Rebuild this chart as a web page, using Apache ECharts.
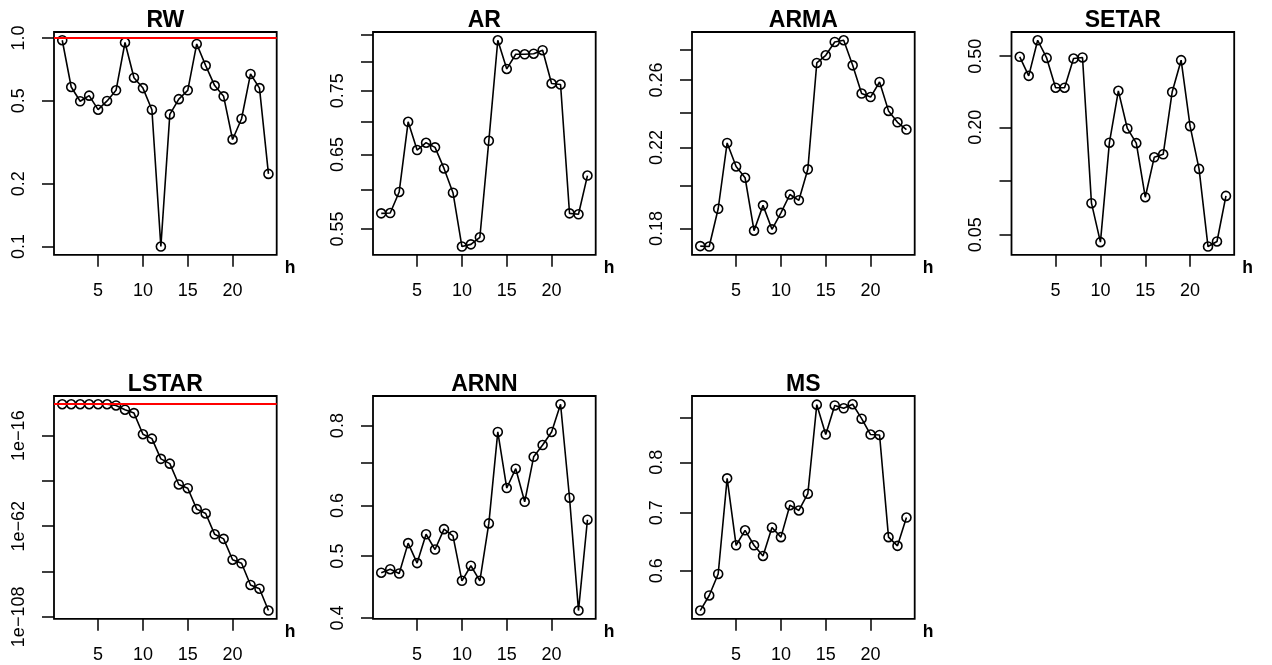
<!DOCTYPE html>
<html><head><meta charset="utf-8">
<script src="https://cdn.jsdelivr.net/npm/echarts@6/dist/echarts.min.js"></script>
<style>html,body{margin:0;padding:0;background:#fff}#c{width:1272px;height:665px}</style>
</head><body><div id="c"></div>
<script>
// ---------------- data ----------------
const horizons = [1,2,3,4,5,6,7,8,9,10,11,12,13,14,15,16,17,18,19,20,21,22,23,24];
const panelNames = ['RW','AR','ARMA','SETAR','LSTAR','ARNN','MS'];

const rwValues    = [0.975,0.582,0.497,0.529,0.453,0.499,0.561,0.951,0.645,0.575,0.453,0.100,0.430,0.509,0.561,0.936,0.737,0.591,0.525,0.326,0.410,0.672,0.575,0.223];
const arValues    = [0.5696,0.570,0.5976,0.6995,0.6566,0.6674,0.6605,0.630,0.5966,0.5287,0.5313,0.5398,0.6703,0.840,0.7876,0.814,0.814,0.815,0.8214,0.7623,0.7605,0.5696,0.5684,0.620];
const armaValues  = [0.1723,0.1721,0.189,0.2225,0.2099,0.2041,0.179,0.1906,0.1796,0.1871,0.1958,0.1930,0.2084,0.2713,0.2765,0.2858,0.287,0.2697,0.2515,0.2493,0.2588,0.2409,0.2342,0.230];
const setarValues = [0.496,0.388,0.614,0.489,0.333,0.333,0.485,0.492,0.0752,0.0455,0.164,0.320,0.197,0.163,0.0812,0.1358,0.1412,0.315,0.475,0.203,0.117,0.043,0.0459,0.0826];
const lstarValues = [0.85,0.85,0.85,0.85,0.85,0.85,0.2,1.4e-3,2.8e-5,5e-16,3e-18,1.6e-28,6e-31,1.6e-41,2e-43,5e-54,3e-56,8e-67,4e-69,1e-79,1.6e-81,1.6e-92,2e-94,1.6e-105];
const arnnValues  = [0.471,0.477,0.4696,0.524,0.4876,0.541,0.512,0.551,0.538,0.4575,0.483,0.4575,0.5625,0.782,0.639,0.685,0.608,0.715,0.746,0.782,0.864,0.617,0.411,0.570];
const msValues    = [0.540,0.562,0.595,0.7666,0.642,0.668,0.642,0.624,0.673,0.656,0.714,0.704,0.736,0.932,0.861,0.930,0.923,0.933,0.898,0.861,0.860,0.656,0.641,0.691];

// reference level (red line) per panel, null = none
const refLevels = [1, null, null, null, 1, null, null];

// x tick labels
const xTicks = [5,10,15,20];

// y ticks (all tick marks) and labelled ticks per panel
const rwTicks = [0.1,0.2,0.5,1.0];            const rwLabelTicks = [0.1,0.2,0.5,1.0];   const rwLabels = ['0.1','0.2','0.5','1.0'];
const arTicks = [0.55,0.60,0.65,0.70,0.75,0.80,0.85]; const arLabelTicks = [0.55,0.65,0.75]; const arLabels = ['0.55','0.65','0.75'];
const armaTicks = [0.18,0.20,0.22,0.24,0.26,0.28]; const armaLabelTicks = [0.18,0.22,0.26]; const armaLabels = ['0.18','0.22','0.26'];
const setarTicks = [0.05,0.10,0.20,0.50];     const setarLabelTicks = [0.05,0.20,0.50]; const setarLabels = ['0.05','0.20','0.50'];
const lstarTicks = [1e-108,1e-85,1e-62,1e-39,1e-16]; const lstarLabelTicks = [1e-108,1e-62,1e-16]; const lstarLabels = ['1e\u2212108','1e\u221262','1e\u221216'];
const arnnTicks = [0.4,0.5,0.6,0.7,0.8];      const arnnLabelTicks = [0.4,0.5,0.6,0.8]; const arnnLabels = ['0.4','0.5','0.6','0.8'];
const msTicks = [0.6,0.7,0.8,0.9];            const msLabelTicks = [0.6,0.7,0.8];       const msLabels = ['0.6','0.7','0.8'];

// ---------------- assembly ----------------
const panelValues = [rwValues, arValues, armaValues, setarValues, lstarValues, arnnValues, msValues];
const panelTicks = [rwTicks, arTicks, armaTicks, setarTicks, lstarTicks, arnnTicks, msTicks];
const panelLabelTicks = [rwLabelTicks, arLabelTicks, armaLabelTicks, setarLabelTicks, lstarLabelTicks, arnnLabelTicks, msLabelTicks];
const panelLabels = [rwLabels, arLabels, armaLabels, setarLabels, lstarLabels, arnnLabels, msLabels];

const FONT = '"Liberation Sans", Arial, Helvetica, sans-serif';
const colLeft = [54, 373, 692, 1011.5];
const rowTop = [32, 396];
const boxW = 222.7, boxH = 222.8;

const grids = [], xAxes = [], yAxes = [], series = [], titles = [];
panelNames.forEach((name, i) => {
  const col = i % 4, row = Math.floor(i / 4);
  const left = colLeft[col], top = rowTop[row];
  grids.push({left: left, top: top, width: boxW, height: boxH, show: true,
    borderColor: '#000', borderWidth: 1.8, backgroundColor: 'transparent', containLabel: false});
  titles.push({text: name, left: left + boxW / 2, top: top - 22.5, textAlign: 'center', padding: 0,
    textStyle: {fontFamily: FONT, fontSize: 23, fontWeight: 'bold', color: '#000'}});

  const logs = panelValues[i].map(v => Math.log10(v));
  const lo = Math.min.apply(null, logs), hi = Math.max.apply(null, logs);
  const d = hi - lo;
  const labelLogs = panelLabelTicks[i].map(v => Math.log10(v));
  const labs = panelLabels[i];

  xAxes.push({type: 'value', gridIndex: i, min: 0.08, max: 24.92, position: 'bottom',
    name: 'h', nameLocation: 'end', nameGap: 8,
    nameTextStyle: {fontFamily: FONT, fontSize: 17.5, fontWeight: 'bold', color: '#000',
      verticalAlign: 'top', padding: [4, 0, 0, 0]},
    axisLine: {show: false, onZero: false}, splitLine: {show: false},
    axisTick: {show: true, length: 12, lineStyle: {color: '#000', width: 1.5}, customValues: xTicks},
    axisLabel: {customValues: xTicks, margin: 27, fontFamily: FONT, fontSize: 18, color: '#000'}});

  yAxes.push({type: 'value', gridIndex: i, min: lo - 0.04 * d, max: hi + 0.04 * d,
    axisLine: {show: false, onZero: false}, splitLine: {show: false},
    axisTick: {show: true, length: 12, lineStyle: {color: '#000', width: 1.5},
      customValues: panelTicks[i].map(v => Math.log10(v))},
    axisLabel: {customValues: labelLogs, rotate: 90, margin: 26, fontFamily: FONT, fontSize: 18, color: '#000',
      formatter: function (val) {
        for (let k = 0; k < labelLogs.length; k++) {
          if (Math.abs(labelLogs[k] - val) < 1e-6) return labs[k];
        }
        return '';
      }}});

  const s = {type: 'line', xAxisIndex: i, yAxisIndex: i,
    data: horizons.map((h, k) => [h, logs[k]]),
    symbol: 'circle', symbolSize: 9, showSymbol: true, showAllSymbol: true,
    itemStyle: {color: 'rgba(0,0,0,0)', borderColor: '#000', borderWidth: 1.6},
    lineStyle: {color: '#000', width: 1.6},
    emphasis: {disabled: true}, silent: true, animation: false, z: 3};
  if (refLevels[i] !== null) {
    s.markLine = {silent: true, symbol: ['none', 'none'], label: {show: false},
      lineStyle: {color: '#ff0000', width: 2, type: 'solid'},
      emphasis: {disabled: true}, animation: false,
      data: [{yAxis: Math.log10(refLevels[i])}]};
  }
  series.push(s);
});

const chart = echarts.init(document.getElementById('c'), null, {renderer: 'canvas'});
chart.setOption({backgroundColor: '#fff', animation: false,
  title: titles, grid: grids, xAxis: xAxes, yAxis: yAxes, series: series});
</script>
</body></html>
